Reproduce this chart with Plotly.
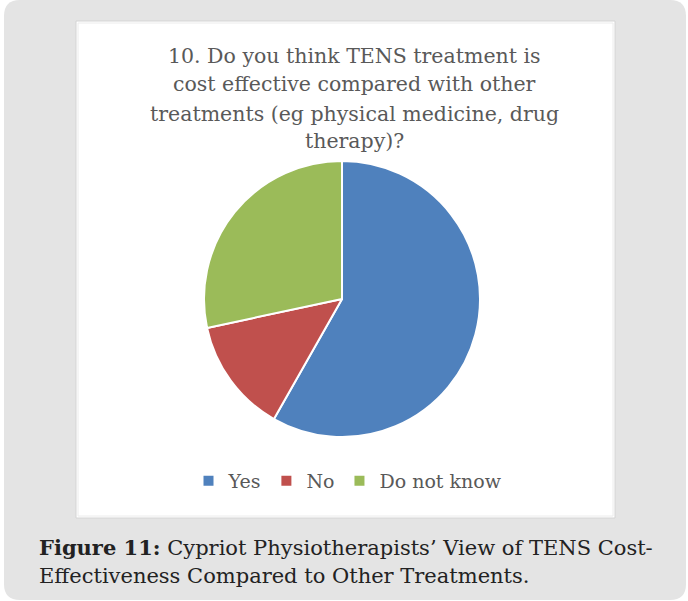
import plotly.graph_objects as go

W, H = 688, 601

# Data
categories = ["Yes", "No", "Do not know"]
counts = [39, 9, 19]
colors = ["#4f81bd", "#c0504d", "#9bbb59"]

title_lines = [
    "10. Do you think TENS treatment is",
    "cost effective compared with other",
    "treatments (eg physical medicine, drug",
    "therapy)?",
]
caption_lines = [
    "<b>Figure 11:</b> Cypriot Physiotherapists\u2019 View of TENS Cost-",
    "Effectiveness Compared to Other Treatments.",
]

def px(x):
    return x / W

def py(y):
    return 1 - y / H

fig = go.Figure()
fig.add_trace(go.Pie(
    labels=categories, values=counts,
    marker=dict(colors=colors, line=dict(color="white", width=2)),
    sort=False, direction="clockwise", rotation=0,
    textinfo="none", hoverinfo="label+value+percent",
    domain=dict(x=[px(204), px(480)], y=[py(437), py(161)]),
))

shapes = []
# outer gray rounded panel
x0, x1, y0, y1, r = 4, 686, 0, 600, 16
path = (f"M{x0+r},{y0} L{x1-r},{y0} Q{x1},{y0} {x1},{y0+r} L{x1},{y1-r} "
        f"Q{x1},{y1} {x1-r},{y1} L{x0+r},{y1} Q{x0},{y1} {x0},{y1-r} "
        f"L{x0},{y0+r} Q{x0},{y0} {x0+r},{y0} Z")
shapes.append(dict(type="path", path=path, xref="x", yref="y",
                   fillcolor="#e4e4e4", line=dict(width=0), layer="below"))
shapes.append(dict(type="rect", x0=76, x1=615, y0=21, y1=518, xref="x", yref="y",
                   fillcolor="white", line=dict(color="#d4d4d4", width=1), layer="below"))
shapes.append(dict(type="rect", x0=78, x1=613, y0=23, y1=516, xref="x", yref="y",
                   fillcolor="rgba(0,0,0,0)", line=dict(color="#ececec", width=1), layer="below"))

annotations = []
title_centers = [56, 84, 114, 141]
for t, yc in zip(title_lines, title_centers):
    annotations.append(dict(text=t, x=px(354), y=py(yc), xref="paper", yref="paper",
                            xanchor="center", yanchor="middle", showarrow=False,
                            font=dict(family="DejaVu Serif", size=20.5, color="#595959")))
cap_centers = [547, 576]
for t, yc in zip(caption_lines, cap_centers):
    annotations.append(dict(text=t, x=px(37), y=py(yc), xref="paper", yref="paper",
                            xanchor="left", yanchor="middle", showarrow=False,
                            font=dict(family="DejaVu Serif", size=21, color="#222222")))

fig.update_layout(
    width=W, height=H, margin=dict(l=0, r=0, t=0, b=0),
    paper_bgcolor="white", plot_bgcolor="rgba(0,0,0,0)",
    xaxis=dict(range=[0, W], visible=False, domain=[0, 1], fixedrange=True),
    yaxis=dict(range=[H, 0], visible=False, domain=[0, 1], fixedrange=True),
    shapes=shapes, annotations=annotations,
    showlegend=True,
    legend=dict(orientation="h", x=px(348), xanchor="center", y=py(481), yanchor="middle",
                font=dict(family="DejaVu Serif", size=19, color="#595959"),
                bgcolor="rgba(0,0,0,0)", itemclick=False, itemdoubleclick=False),
)

fig.write_html("out.html", config={"displayModeBar": False},
               post_script="document.body.style.margin='0';document.body.style.overflow='hidden';")
